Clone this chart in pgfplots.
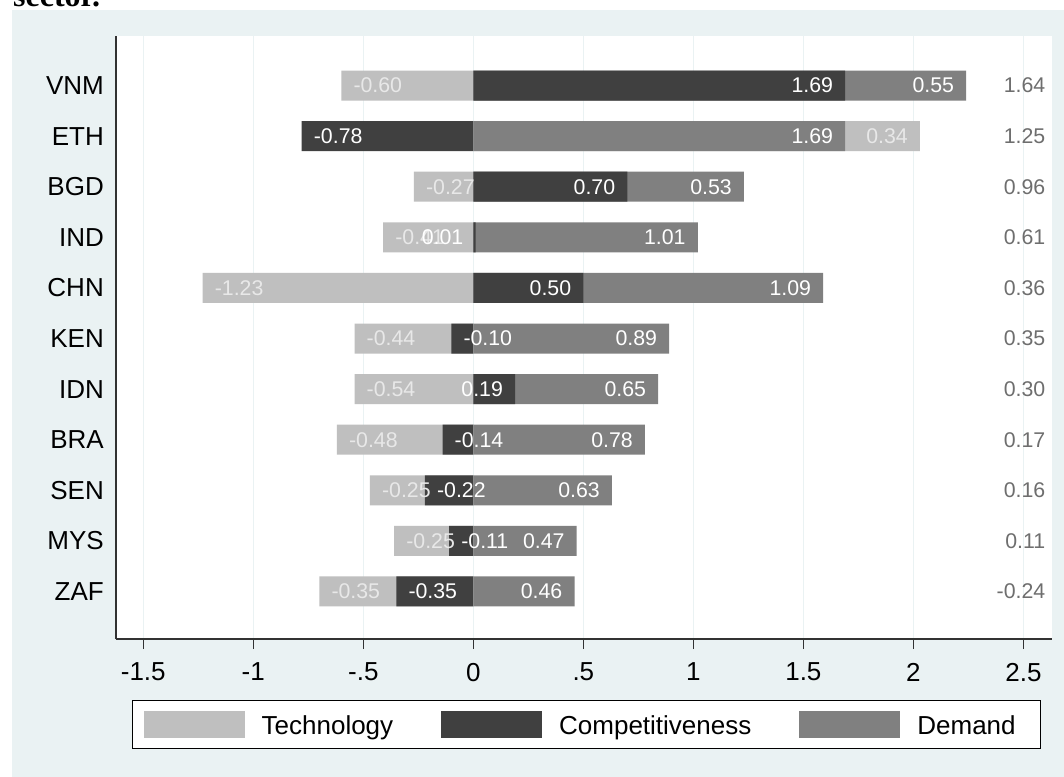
\documentclass[border=0pt]{standalone}
\usepackage{fontspec}
\setmainfont{Liberation Sans}
\newfontfamily\titleserif{Liberation Serif}
\usepackage{pgfplots}
\pgfplotsset{compat=1.18}
\usepackage{pgfplotstable}

\definecolor{ltbg}{RGB}{234,242,243}
\definecolor{techc}{RGB}{191,191,191}
\definecolor{compc}{RGB}{64,64,64}
\definecolor{demc}{RGB}{128,128,128}
\definecolor{tlab}{RGB}{232,232,232}
\definecolor{totc}{RGB}{110,110,110}
\definecolor{axc}{RGB}{50,50,50}

% outer (second-layer) segments, drawn from 0 to their cumulative end
\pgfplotstableread{
x y
2.24 11
1.23 9
1.02 8
1.59 7
0.84 5
}\demouter
\pgfplotstableread{
x y
2.03 10
-0.54 6
-0.62 4
-0.47 3
-0.36 2
-0.70 1
}\techouter
% inner segments, drawn from 0
\pgfplotstableread{
x y
-0.60 11
-0.27 9
-0.41 8
-1.23 7
-0.54 5
}\techinner
\pgfplotstableread{
x y
1.69 11
-0.78 10
0.70 9
0.01 8
0.50 7
-0.10 6
0.19 5
-0.14 4
-0.22 3
-0.11 2
-0.35 1
}\compinner
\pgfplotstableread{
x y
1.69 10
0.89 6
0.78 4
0.63 3
0.47 2
0.46 1
}\deminner
% value labels: position of the bar end, and the value
\pgfplotstableread{
x y l
-0.60 11 -0.60
-0.27 9 -0.27
-0.41 8 -0.41
-1.23 7 -1.23
-0.54 6 -0.44
-0.54 5 -0.54
-0.62 4 -0.48
-0.47 3 -0.25
-0.36 2 -0.25
-0.70 1 -0.35
}\techneglab
\pgfplotstableread{
x y l
2.03 10 0.34
}\techposlab
\pgfplotstableread{
x y l
-0.78 10 -0.78
-0.10 6 -0.10
-0.14 4 -0.14
-0.22 3 -0.22
-0.11 2 -0.11
-0.35 1 -0.35
}\compneglab
\pgfplotstableread{
x y l
1.69 11 1.69
0.70 9 0.70
0.01 8 0.01
0.50 7 0.50
0.19 5 0.19
}\compposlab
\pgfplotstableread{
x y l
2.24 11 0.55
1.69 10 1.69
1.23 9 0.53
1.02 8 1.01
1.59 7 1.09
0.89 6 0.89
0.84 5 0.65
0.78 4 0.78
0.63 3 0.63
0.47 2 0.47
0.46 1 0.46
}\demlab
\pgfplotstableread{
x y l
2.60 11 1.64
2.60 10 1.25
2.60 9 0.96
2.60 8 0.61
2.60 7 0.36
2.60 6 0.35
2.60 5 0.30
2.60 4 0.17
2.60 3 0.16
2.60 2 0.11
2.60 1 -0.24
}\totlab

\begin{document}
\begin{tikzpicture}
\useasboundingbox (0bp,0bp) rectangle (1064bp,777bp);
\fill[white] (0bp,0bp) rectangle (1064bp,777bp);
\fill[ltbg] (12bp,0bp) rectangle (1064bp,767bp);
\node[anchor=base west, inner sep=0pt, font=\titleserif\bfseries\fontsize{32bp}{36bp}\selectfont] at (13bp,770bp) {sector.};
\begin{axis}[
  at={(116bp,138bp)}, anchor=south west,
  scale only axis, width=936bp, height=603bp,
  xmin=-1.624, xmax=2.63, ymin=0.06, ymax=11.98,
  axis background/.style={fill=white},
  axis lines*=left,
  axis line style={line width=1.5bp, color=axc},
  xtick={-1.5,-1,-0.5,0,0.5,1,1.5,2,2.5},
  xticklabels={-1.5,-1,-.5,0,.5,1,1.5,2,2.5},
  ytick={1,2,3,4,5,6,7,8,9,10,11},
  yticklabels={ZAF,MYS,SEN,BRA,IDN,KEN,CHN,IND,BGD,ETH,VNM},
  tick align=outside,
  major tick length=10bp,
  xtick style={line width=1.5bp, color=axc},
  ytick style={draw=none},
  xmajorgrids,
  major grid style={line width=1.5bp, color=ltbg},
  ticklabel style={font=\fontsize{26bp}{30bp}\selectfont, text=black},
  xticklabel style={inner sep=0pt, yshift=-13.7bp},
  yticklabel style={inner sep=0pt, xshift=-2bp},
  bar width=30bp,
  legend columns=3,
  legend cell align=left,
  legend image code/.code={\path[draw=none, fill, #1] (0bp,-12bp) rectangle (101bp,15bp);},
  legend style={
    at={(0,0)}, anchor=north west, xshift=16bp, yshift=-61bp,
    draw=black, line width=1.3bp, fill=white,
    inner xsep=11bp, inner ysep=10.5bp,
    font=\fontsize{26bp}{30bp}\selectfont,
    nodes={inner sep=0pt},
    /tikz/every odd column/.append style={column sep=17bp},
    /tikz/every even column/.append style={column sep=48bp},
  },
  nodes near coords style={font=\fontsize{21.3bp}{24bp}\selectfont, inner sep=0pt},
]
% bars
\addplot[xbar, bar shift=0pt, fill=demc, draw=none, forget plot] table[x=x,y=y] {\demouter};
\addplot[xbar, bar shift=0pt, fill=techc, draw=none, forget plot] table[x=x,y=y] {\techouter};
\addplot[xbar, bar shift=0pt, fill=techc, draw=none, forget plot] table[x=x,y=y] {\techinner};
\addplot[xbar, bar shift=0pt, fill=compc, draw=none, forget plot] table[x=x,y=y] {\compinner};
\addplot[xbar, bar shift=0pt, fill=demc, draw=none, forget plot] table[x=x,y=y] {\deminner};
% value labels
\addplot[draw=none, mark=none, forget plot, point meta=explicit symbolic, nodes near coords,
  nodes near coords style={anchor=west, xshift=12bp, text=tlab}] table[x=x,y=y,meta=l] {\techneglab};
\addplot[draw=none, mark=none, forget plot, point meta=explicit symbolic, nodes near coords,
  nodes near coords style={anchor=east, xshift=-12bp, text=tlab}] table[x=x,y=y,meta=l] {\techposlab};
\addplot[draw=none, mark=none, forget plot, point meta=explicit symbolic, nodes near coords,
  nodes near coords style={anchor=west, xshift=12bp, text=white}] table[x=x,y=y,meta=l] {\compneglab};
\addplot[draw=none, mark=none, forget plot, point meta=explicit symbolic, nodes near coords,
  nodes near coords style={anchor=east, xshift=-12bp, text=white}] table[x=x,y=y,meta=l] {\compposlab};
\addplot[draw=none, mark=none, forget plot, point meta=explicit symbolic, nodes near coords,
  nodes near coords style={anchor=east, xshift=-12bp, text=white}] table[x=x,y=y,meta=l] {\demlab};
\addplot[draw=none, mark=none, forget plot, point meta=explicit symbolic, nodes near coords,
  nodes near coords style={anchor=east, text=totc}] table[x=x,y=y,meta=l] {\totlab};
% legend
\addlegendimage{fill=techc}
\addlegendentry{Technology}
\addlegendimage{fill=compc}
\addlegendentry{Competitiveness}
\addlegendimage{fill=demc}
\addlegendentry{Demand\hspace*{14bp}}
\end{axis}
\end{tikzpicture}
\end{document}
